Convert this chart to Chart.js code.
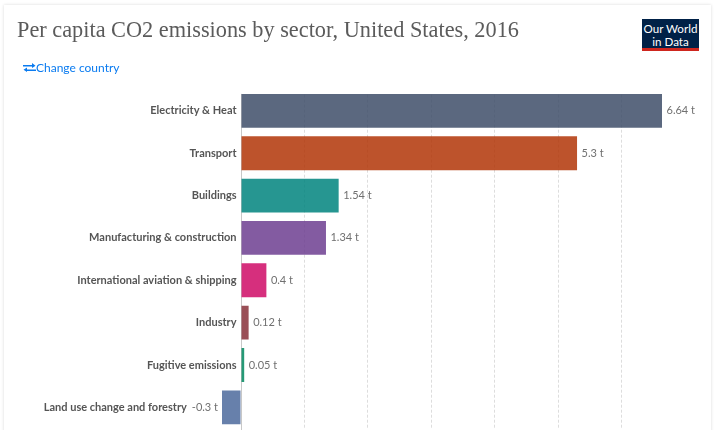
<!DOCTYPE html>
<html>
<head>
<meta charset="utf-8">
<script src="https://cdn.jsdelivr.net/npm/chart.js@4"></script>
<style>
  html, body { margin: 0; padding: 0; background: #fff; width: 715px; height: 430px; overflow: hidden; }
  #card { position: absolute; left: 4px; top: 5px; width: 707px; height: 440px; background: #fff;
          box-shadow: 0 0 3px rgba(0,0,0,0.15); }
  #title { position: absolute; left: 17px; top: 17px; font: 22.3px "Liberation Serif", serif; color: #5b5b5b; white-space: nowrap; }
  #change { position: absolute; left: 23px; top: 60px; font: 12px Lato, sans-serif; color: #0a7bf0; white-space: nowrap; }
  #change svg { vertical-align: -1px; }
  #logo { position: absolute; left: 642px; top: 19px; width: 57px; height: 26px; padding-top: 3px; background: #002147;
          border-bottom: 3px solid #ce261e; color: #fff; font: 11.6px/13px Lato, sans-serif; text-align: center; }
  #wrap { position: absolute; left: 0; top: 0; width: 715px; height: 430px; }
</style>
</head>
<body>
<div id="card"></div>
<div id="wrap"><canvas id="chart" width="715" height="430"></canvas></div>
<div id="title">Per capita CO2 emissions by sector, United States, 2016</div>
<div id="change"><svg width="13" height="11" viewBox="0 0 13 11"><path d="M0 3h9V1l3.500 2.750L9 6V4.500H0zM13 7.500H4V5.500L.5 7.750 4 10V9h9z" fill="#0a7bf0"/></svg>Change country</div>
<div id="logo">Our World<br>in Data</div>
<script>
const sectors = ["Electricity & Heat", "Transport", "Buildings", "Manufacturing & construction",
  "International aviation & shipping", "Industry", "Fugitive emissions", "Land use change and forestry"];
const emissions = [6.64, 5.3, 1.54, 1.34, 0.4, 0.12, 0.05, -0.3];
const barColors = ["#3e4d68", "#b13507", "#00847e", "#6d3e91", "#cf0a66", "#883039", "#00875e", "#4c6a9c"];
const gridTicks = [0, 1, 2, 3, 4, 5, 6];

// draws zero line, sector names and value labels
const labelsPlugin = {
  id: "labels",
  beforeDatasetsDraw(chart) {
    const { ctx, scales: { x, y }, chartArea } = chart;
    const top = y.getPixelForValue(0) - 17;
    ctx.save();
    // grid only starts at the first bar
    ctx.fillStyle = "#fff";
    ctx.fillRect(chartArea.left, chartArea.top - 1, chartArea.width + 1, top - chartArea.top + 1);
    ctx.strokeStyle = "#c8c8c8";
    ctx.lineWidth = 1;
    ctx.beginPath();
    ctx.moveTo(Math.round(x.getPixelForValue(0)) + 0.5, top);
    ctx.lineTo(Math.round(x.getPixelForValue(0)) + 0.5, 430);
    ctx.stroke();
    ctx.restore();
  },
  afterDatasetsDraw(chart) {
    const { ctx, scales: { x, y } } = chart;
    ctx.save();
    ctx.textBaseline = "middle";
    sectors.forEach((name, i) => {
      const py = y.getPixelForValue(i);
      const val = emissions[i];
      const zero = x.getPixelForValue(0);
      const end = x.getPixelForValue(val);
      const valText = val + " t";
      ctx.font = "11px Lato, sans-serif";
      ctx.fillStyle = "#707070";
      let nameRight = zero - 4.5;
      if (val < 0) {
        ctx.textAlign = "right";
        ctx.fillText(valText, end - 4, py);
        nameRight = end - 4 - ctx.measureText(valText).width - 5;
      } else {
        ctx.textAlign = "left";
        ctx.fillText(valText, end + 4.5, py);
      }
      ctx.font = "bold 11px Lato, sans-serif";
      ctx.fillStyle = "#555";
      ctx.textAlign = "right";
      ctx.fillText(name, nameRight, py);
    });
    ctx.restore();
  }
};

new Chart(document.getElementById("chart"), {
  type: "bar",
  data: {
    labels: sectors,
    datasets: [{
      data: emissions,
      backgroundColor: barColors.map(c => c + "d9"),
      borderWidth: 0,
      categoryPercentage: 1,
      barPercentage: 0.8
    }]
  },
  options: {
    indexAxis: "y",
    responsive: false,
    animation: false,
    layout: { padding: { left: 222, right: 53, top: 89.7, bottom: 1.5 } },
    plugins: { legend: { display: false }, tooltip: { enabled: false } },
    scales: {
      x: {
        min: -0.3,
        max: 6.64,
        afterBuildTicks: axis => { axis.ticks = gridTicks.map(v => ({ value: v })); },
        afterFit: axis => { axis.height = 0; },
        ticks: { display: false },
        grid: { color: c => c.tick && c.tick.value === 0 ? "rgba(0,0,0,0)" : "#dddddd", drawTicks: false },
        border: { display: false, dash: [3, 2] }
      },
      y: {
        afterFit: axis => { axis.width = 0; },
        ticks: { display: false },
        grid: { display: false },
        border: { display: false }
      }
    }
  },
  plugins: [labelsPlugin]
});
</script>
</body>
</html>
